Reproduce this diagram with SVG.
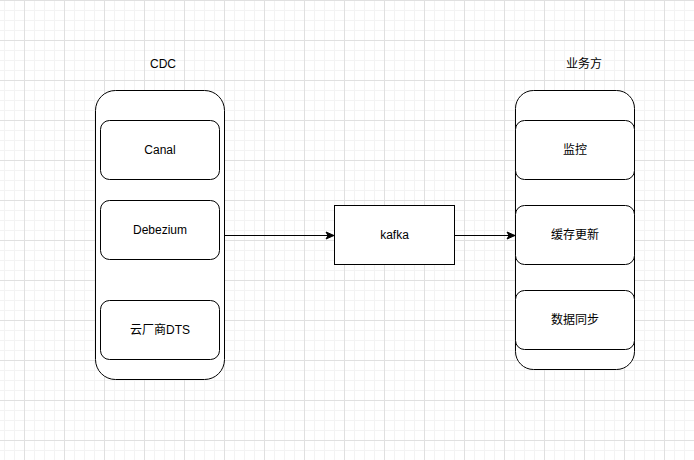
<svg xmlns="http://www.w3.org/2000/svg" width="694" height="460" viewBox="0 0 694 460">
  <defs>
    <pattern id="minor" patternUnits="userSpaceOnUse" x="4" y="0" width="10" height="10">
      <rect x="0" y="0" width="1" height="10" fill="#f3f3f3"/>
      <rect x="0" y="0" width="10" height="1" fill="#f3f3f3"/>
    </pattern>
    <pattern id="major" patternUnits="userSpaceOnUse" x="24" y="0" width="40" height="40">
      <rect x="0" y="0" width="1" height="40" fill="#e0e0e0"/>
      <rect x="0" y="0" width="40" height="1" fill="#e0e0e0"/>
    </pattern>
    <marker id="arrow" markerUnits="userSpaceOnUse" markerWidth="10" markerHeight="10" viewBox="0 0 10 10" refX="9" refY="5" orient="auto">
      <path d="M1,1.5 L9,5 L1,8.5 L3,5 Z" fill="#000" stroke="#000" stroke-width="1"/>
    </marker>
    <style>
      .box { fill: #fff; stroke: #000; stroke-width: 1; }
      .lbl { font-family: "Liberation Sans", "Noto Sans CJK SC", sans-serif; font-size: 12px; fill: #000; text-anchor: middle; dominant-baseline: central; }
      .conn { stroke: #000; stroke-width: 1; fill: none; marker-end: url(#arrow); }
    </style>
  </defs>
  <rect width="694" height="460" fill="#fff"/>
  <rect width="694" height="460" fill="url(#minor)"/>
  <rect width="694" height="460" fill="url(#major)"/>

  <g id="cdc-title"><text class="lbl" x="163" y="64">CDC</text></g>
  <g id="biz-title"><text class="lbl" x="584" y="64">业务方</text></g>

  <g id="cdc-container"><rect class="box" x="95.5" y="90.5" width="129" height="289" rx="20" ry="20"/></g>
  <g id="canal"><rect class="box" x="100.5" y="120.5" width="119" height="59" rx="9" ry="9"/><text class="lbl" x="160" y="150">Canal</text></g>
  <g id="debezium"><rect class="box" x="100.5" y="200.5" width="119" height="59" rx="9" ry="9"/><text class="lbl" x="160" y="230">Debezium</text></g>
  <g id="dts"><rect class="box" x="100.5" y="300.5" width="119" height="59" rx="9" ry="9"/><text class="lbl" x="160" y="330">云厂商DTS</text></g>

  <g id="kafka"><rect class="box" x="334.5" y="205.5" width="120" height="59"/><text class="lbl" x="394.5" y="235">kafka</text></g>

  <g id="biz-container"><rect class="box" x="515.5" y="90.5" width="119" height="279" rx="18" ry="18"/></g>
  <g id="monitor"><rect class="box" x="515.5" y="120.5" width="119" height="59" rx="9" ry="9"/><text class="lbl" x="575" y="150">监控</text></g>
  <g id="cache"><rect class="box" x="515.5" y="205.5" width="119" height="59" rx="9" ry="9"/><text class="lbl" x="575" y="235">缓存更新</text></g>
  <g id="sync"><rect class="box" x="515.5" y="290.5" width="119" height="59" rx="9" ry="9"/><text class="lbl" x="575" y="320">数据同步</text></g>

  <g id="connectors">
    <line class="conn" x1="225" y1="235.5" x2="334" y2="235.5"/>
    <line class="conn" x1="455" y1="235.5" x2="515" y2="235.5"/>
  </g>
</svg>
